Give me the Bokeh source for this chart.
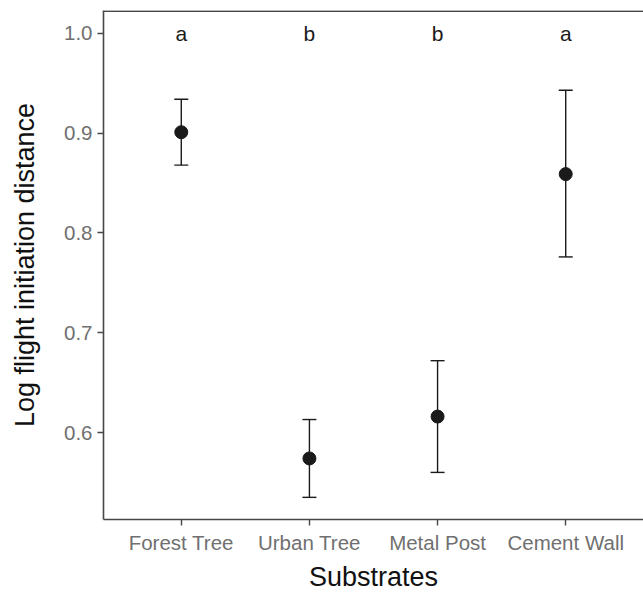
from bokeh.plotting import figure
from bokeh.models import (ColumnDataSource, FactorRange, Range1d, FixedTicker,
                          PrintfTickFormatter, Whisker, TeeHead, Span)
from bokeh.core.properties import value
from bokeh.embed import file_html
from bokeh.resources import INLINE

substrates = ["Forest Tree", "Urban Tree", "Metal Post", "Cement Wall"]
means = [0.901, 0.574, 0.616, 0.859]
lower = [0.868, 0.535, 0.560, 0.776]
upper = [0.934, 0.613, 0.672, 0.943]
groups = ["a", "b", "b", "a"]
letter_y = [1.0, 1.0, 1.0, 1.0]
y_ticks = [0.6, 0.7, 0.8, 0.9, 1.0]

FONT = "Liberation Sans"
INK = "#1a1a1a"
Y_LO, Y_HI = 0.5128, 1.023

src = ColumnDataSource(dict(x=substrates, m=means, lo=lower, up=upper,
                            g=groups, gy=letter_y))

p = figure(width=643, height=594, output_backend="svg", toolbar_location=None,
           x_range=FactorRange(factors=substrates, range_padding=0.107,
                               range_padding_units="absolute"),
           y_range=Range1d(Y_LO, Y_HI),
           min_border_left=103, min_border_right=0, min_border_top=10,
           min_border_bottom=75)

p.background_fill_color = "white"
p.border_fill_color = "white"
p.outline_line_color = None
p.xgrid.visible = False
p.ygrid.visible = False

# top frame line
p.add_layout(Span(location=Y_HI - 0.0006, dimension="width",
                  line_color="#474747", line_width=1.6))

# error bars
w = Whisker(source=src, base="x", lower="lo", upper="up",
            line_color=INK, line_width=1.4,
            lower_head=TeeHead(size=14, line_color=INK, line_width=1.4),
            upper_head=TeeHead(size=14, line_color=INK, line_width=1.4))
p.add_layout(w)

p.scatter("x", "m", source=src, size=13, fill_color=INK, line_color=INK)

p.text("x", "gy", text="g", source=src, text_align="center",
       text_baseline="middle", text_font=value(FONT),
       text_font_size="21px", text_color="#1a1a1a")

# axes styling
for ax in (p.xaxis[0], p.yaxis[0]):
    ax.axis_line_color = "#474747"
    ax.axis_line_width = 1.6
    ax.major_tick_line_color = "#474747"
    ax.major_tick_line_width = 1.4
    ax.major_tick_out = 6
    ax.major_tick_in = 0
    ax.minor_tick_line_color = None
    ax.major_label_text_font = FONT
    ax.major_label_text_font_size = "20.5px"
    ax.major_label_text_color = "#707070"
    ax.axis_label_text_font = FONT
    ax.axis_label_text_font_size = "27px"
    ax.axis_label_text_font_style = "normal"
    ax.axis_label_text_color = "#111111"
    ax.major_label_standoff = 5

p.yaxis.ticker = FixedTicker(ticks=y_ticks)
p.yaxis.formatter = PrintfTickFormatter(format="%.1f")
p.xaxis.axis_label = "Substrates"
p.yaxis.axis_label = "Log flight initiation distance"
p.yaxis.axis_label_standoff = 21
p.xaxis.axis_label_standoff = 5

open("out.html", "w").write(file_html(p, INLINE))
